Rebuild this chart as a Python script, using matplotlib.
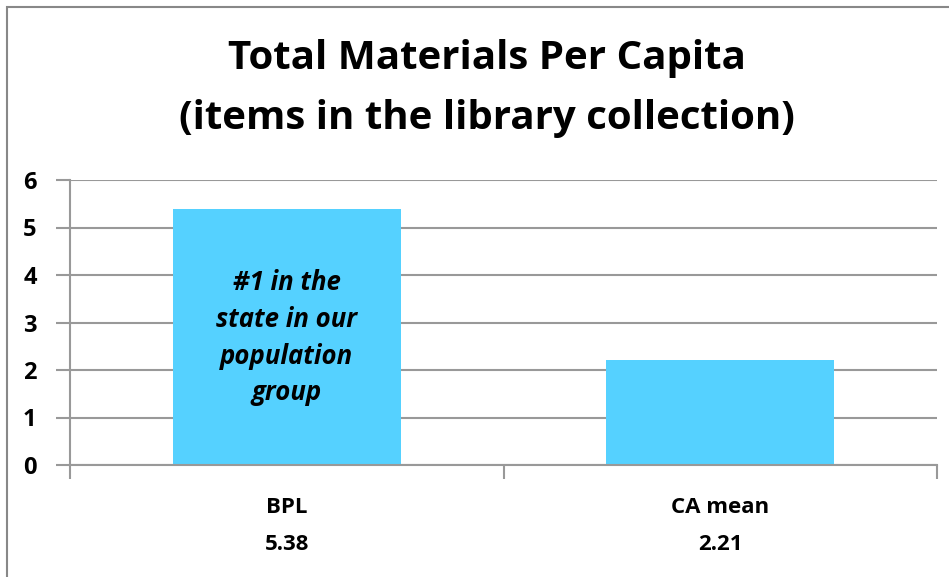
import matplotlib.pyplot as plt
from matplotlib.patches import Rectangle

# data
categories = ["BPL", "CA mean"]
values = [5.38, 2.21]
value_labels = ["5.38", "2.21"]
bar_note = "#1 in the\nstate in our\npopulation\ngroup"
title = "Total Materials Per Capita\n(items in the library collection)"

W, H = 949, 577
fig = plt.figure(figsize=(W / 100, H / 100), dpi=100)
plt.rcParams['font.family'] = ['Open Sans', 'DejaVu Sans']

ax = fig.add_axes([70 / W, (H - 465) / H, (937 - 70) / W, (465 - 180) / H])
x = list(range(len(categories)))
ax.bar(x, values, width=0.526, color="#55D1FF", zorder=2)

ax.set_xlim(-0.5, len(categories) - 0.5)
ax.set_ylim(0, 6)
ax.set_yticks(range(0, 7))
ax.yaxis.grid(True, color="#999999", linewidth=1.5, zorder=0)
ax.tick_params(axis="y", length=10, width=1.5, color="#999999",
               labelsize=17, pad=14)
for lbl in ax.get_yticklabels():
    lbl.set_fontweight("bold")

ax.set_xticks(x)
ax.set_xticklabels([f"{c}\n{v}" for c, v in zip(categories, value_labels)],
                   fontsize=16, fontweight="bold", linespacing=2.0)
ax.set_xticks([-0.5, 0.5, 1.5], minor=True)
ax.tick_params(axis="x", which="major", length=0, pad=23)
ax.tick_params(axis="x", which="minor", length=10, width=1.5, color="#999999")

for s in ["top", "right"]:
    ax.spines[s].set_visible(False)
for s in ["left", "bottom"]:
    ax.spines[s].set_color("#999999")
    ax.spines[s].set_linewidth(1.5)

ax.text(x[0], 2.68, bar_note, ha="center", va="center", fontsize=18.5,
        fontweight="bold", fontstyle="italic", linespacing=1.46, zorder=3)

fig.text(487 / W, 1 - 89 / H, title, ha="center", va="center",
         fontsize=29, fontweight="bold", linespacing=1.7)

# outer frame (cut off on the right and bottom)
fig.patches.append(Rectangle((7 / W, -0.1), 1.2, 1.1 - 7 / H,
                             transform=fig.transFigure, fill=False,
                             edgecolor="#888888", linewidth=1.5))

fig.savefig("out.png", dpi=100)
